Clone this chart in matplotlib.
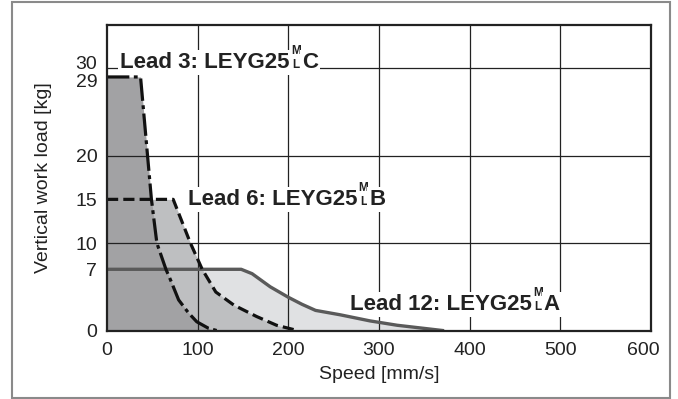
import matplotlib
matplotlib.use("Agg")
import matplotlib.pyplot as plt
import matplotlib.transforms as mtransforms
from matplotlib.patches import Rectangle

plt.rcParams['font.family'] = ['Liberation Sans', 'DejaVu Sans']

# data
lead3_speed = [0, 37, 49, 55, 65, 70, 79, 90, 99, 112, 121]
lead3_load = [29, 29, 15, 10, 7, 5.8, 3.5, 2.0, 1.0, 0.25, 0]

lead6_speed = [0, 73, 92, 105, 120, 140, 165, 187, 210]
lead6_load = [15, 15, 10, 7, 4.4, 2.9, 1.6, 0.6, 0]

lead12_speed = [0, 148, 160, 180, 200, 215, 230, 257, 290, 320, 345, 370]
lead12_load = [7, 7, 6.5, 5.0, 3.8, 3.0, 2.3, 1.8, 1.1, 0.6, 0.3, 0]

x_ticks = [0, 100, 200, 300, 400, 500, 600]
y_ticks = [0, 7, 10, 15, 20, 29, 30]
grid_y = [10, 20, 30]

# curve labels: (text, model letter, x, y)
labels = [("Lead 3: LEYG25", "C", 14.5, 30.05),
          ("Lead 6: LEYG25", "B", 89, 14.4),
          ("Lead 12: LEYG25", "A", 267.5, 2.35)]

fig = plt.figure(figsize=(6.78, 3.99), dpi=100)
ax = fig.add_axes([107 / 678, 1 - 330.5 / 399, 544 / 678, 306 / 399])

# outer frame
fig.patches.append(Rectangle((12 / 678, 1 - 398 / 399), 658 / 678, 396 / 399,
                             transform=fig.transFigure, fill=False,
                             edgecolor='#8a8a8a', lw=1.5))

# filled regions, lightest first
ax.fill_between(lead12_speed, lead12_load, color='#e0e1e3', lw=0, zorder=1)
ax.fill_between(lead6_speed, lead6_load, color='#bebfc1', lw=0, zorder=1.1)
ax.fill_between(lead3_speed, lead3_load, color='#a2a2a4', lw=0, zorder=1.2)

ax.plot(lead12_speed, lead12_load, color='#5a5a5a', lw=2.4, zorder=4)
ax.plot(lead6_speed, lead6_load, color='#111111', lw=2.3, zorder=5,
        dashes=(3.5, 1.6))
ax.plot(lead3_speed, lead3_load, color='#111111', lw=2.3, zorder=6,
        dashes=(7, 1.4, 1.2, 1.4))

ax.set_xlim(0, 600)
ax.set_ylim(0, 35)
ax.set_xticks(x_ticks)
ax.set_yticks(y_ticks)
for xv in x_ticks[1:-1]:
    ax.axvline(xv, color='#222222', lw=0.9, zorder=2)
for yv in grid_y:
    ax.axhline(yv, color='#222222', lw=0.9, zorder=2)

ax.tick_params(axis='both', length=0, labelsize=14, colors='#222222')
ax.tick_params(axis='x', pad=8)
ax.tick_params(axis='y', pad=7)
for s in ax.spines.values():
    s.set_color('#222222')
    s.set_linewidth(1.6)
    s.set_zorder(7)

# nudge crowded tick labels like the original
def shift(lbl, dx, dy):
    lbl.set_transform(lbl.get_transform() +
                      mtransforms.ScaledTranslation(dx / 100, dy / 100, fig.dpi_scale_trans))

ylabels = ax.get_yticklabels()
shift(ylabels[6], 0, 6)
shift(ylabels[5], 0, -4)
shift(ax.get_xticklabels()[6], -8, 0)

ax.set_xlabel("Speed [mm/s]", fontsize=14, color='#222222', labelpad=5)
ax.set_ylabel("Vertical work load [kg]", fontsize=14, color='#222222', labelpad=17)

# labels: main text, stacked M over L, then model letter
renderer = fig.canvas.get_renderer()
box = dict(facecolor='white', edgecolor='none', pad=1.5)
big = dict(fontsize=16, fontweight='bold', color='#222222', va='baseline',
           bbox=box, zorder=3)


def offs(dx, dy):
    return ax.transData + mtransforms.ScaledTranslation(dx / 100, dy / 100,
                                                        fig.dpi_scale_trans)


for main, letter, lx, ly in labels:
    t = ax.text(lx, ly, main, **big)
    w = t.get_window_extent(renderer).width
    ml = ax.text(lx, ly, "M\nL", transform=offs(w + 1.5, 0), fontsize=8.5,
                 fontweight='bold', color='#222222', va='baseline', ha='left',
                 multialignment='center', linespacing=1.2, zorder=3,
                 bbox=dict(facecolor='white', edgecolor='none', pad=0.5))
    wm = ml.get_window_extent(renderer).width
    ax.text(lx, ly, letter, transform=offs(w + wm + 2.5, 0), **big)

fig.savefig("out.png", dpi=100)
